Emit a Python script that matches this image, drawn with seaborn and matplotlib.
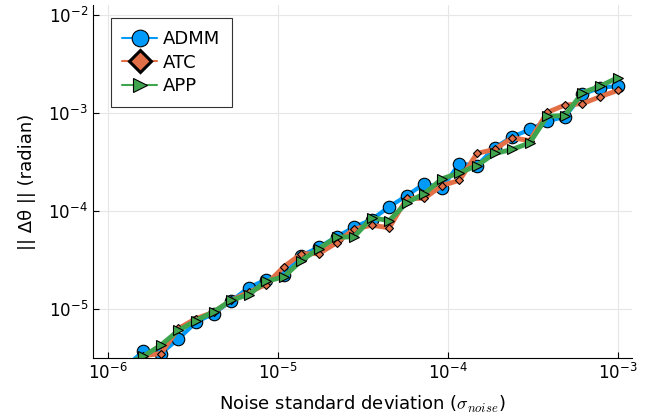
import matplotlib
matplotlib.use("Agg")
import matplotlib.pyplot as plt
import numpy as np
import pandas as pd
import seaborn as sns

# noise levels: 30 log-spaced points from 1e-6 to 1e-3
noise_std = np.logspace(-6, -3, 30)

admm = [1.9e-6, 2.58e-6, 3.69e-6, 3.50e-6, 4.94e-6, 7.30e-6, 8.95e-6, 1.20e-5, 1.65e-5, 1.99e-5,
        2.24e-5, 3.50e-5, 4.25e-5, 5.43e-5, 6.81e-5, 8.15e-5, 1.10e-4, 1.43e-4, 1.89e-4, 1.72e-4,
        3.04e-4, 2.90e-4, 4.40e-4, 5.69e-4, 6.76e-4, 8.21e-4, 9.10e-4, 1.54e-3, 1.81e-3, 1.87e-3]
atc = [1.99e-6, 2.5e-6, 3.33e-6, 3.50e-6, 6.30e-6, 7.96e-6, 9.23e-6, 1.22e-5, 1.48e-5, 1.77e-5,
       2.69e-5, 3.64e-5, 3.66e-5, 4.71e-5, 6.52e-5, 7.13e-5, 6.71e-5, 1.34e-4, 1.34e-4, 1.81e-4,
       2.05e-4, 3.86e-4, 4.23e-4, 5.56e-4, 5.21e-4, 1.01e-3, 1.20e-3, 1.24e-3, 1.46e-3, 1.69e-3]
app = [1.9e-6, 2.7e-6, 3.28e-6, 4.26e-6, 6.01e-6, 7.60e-6, 9.31e-6, 1.22e-5, 1.40e-5, 1.91e-5,
       2.12e-5, 3.11e-5, 4.12e-5, 5.38e-5, 5.43e-5, 8.49e-5, 7.96e-5, 1.21e-4, 1.50e-4, 2.12e-4,
       2.44e-4, 2.90e-4, 3.85e-4, 4.23e-4, 4.94e-4, 9.23e-4, 9.38e-4, 1.60e-3, 1.87e-3, 2.28e-3]

series_names = ["ADMM", "ATC", "APP"]
series_values = [admm, atc, app]

df = pd.DataFrame({
    "noise": np.tile(noise_std, 3),
    "err": np.concatenate(series_values),
    "method": np.repeat(series_names, len(noise_std)),
})

sns.set_style("white")
plt.rcParams["font.family"] = ["DejaVu Sans"]
plt.rcParams["text.color"] = "black"
plt.rcParams["axes.labelcolor"] = "black"
plt.rcParams["xtick.color"] = "black"
plt.rcParams["ytick.color"] = "black"

fig = plt.figure(figsize=(6.59, 4.19), dpi=100)
ax = fig.add_axes([0.141, 0.146, 0.818, 0.842])

styles = {
    "ADMM": dict(color="#009AFA", marker="o", ms=9, lw=3.0, mew=0.8),
    "ATC": dict(color="#E36F47", marker="D", ms=4, lw=3.5, mew=0.8),
    "APP": dict(color="#3EA44E", marker=">", ms=6.5, lw=3.5, mew=0.8),
}

for name in series_names:
    st = styles[name]
    sub = df[df["method"] == name]
    sns.lineplot(data=sub, x="noise", y="err", ax=ax, color=st["color"], lw=st["lw"],
                 marker=st["marker"], markersize=st["ms"], markeredgecolor="black",
                 markeredgewidth=st["mew"], markerfacecolor=st["color"], label=name)

ax.set_xscale("log")
ax.set_yscale("log")
ax.set_xlim(10 ** -6.09, 10 ** -2.915)
ax.set_ylim(10 ** -5.5, 10 ** -1.9)

ax.grid(True, color="#e6e6e6", lw=0.8)
for s in ["top", "right"]:
    ax.spines[s].set_visible(False)
for s in ["left", "bottom"]:
    ax.spines[s].set_color("black")
    ax.spines[s].set_linewidth(0.8)

ax.tick_params(which="major", direction="in", length=4, width=0.8, labelsize=12,
               left=True, bottom=True, color="black")
ax.tick_params(which="minor", left=False, bottom=False)
ax.set_xticks([1e-6, 1e-5, 1e-4, 1e-3])
ax.set_yticks([1e-5, 1e-4, 1e-3, 1e-2])

ax.set_xlabel(r"Noise standard deviation ($\sigma_{noise}$)", fontsize=13, math_fontfamily="cm",
              labelpad=8)
ax.set_ylabel("|| Δθ || (radian)", fontsize=13, labelpad=9)

leg = ax.legend(loc="upper left", bbox_to_anchor=(0.033, 0.962), fontsize=13, frameon=True,
                fancybox=False, edgecolor="black", handlelength=1.9, borderpad=0.65,
                labelspacing=0.3, handletextpad=0.36, borderaxespad=0)
leg.get_frame().set_linewidth(0.8)
# legend handles: bigger markers, thinner lines
legend_ms = {"ADMM": (12, 0.8), "ATC": (11, 2.2), "APP": (10, 0.8)}
for line, text in zip(leg.get_lines(), leg.get_texts()):
    ms, mew = legend_ms[text.get_text()]
    line.set_linewidth(1.5)
    line.set_markersize(ms)
    line.set_markeredgewidth(mew)

fig.savefig("out.png", dpi=100)
